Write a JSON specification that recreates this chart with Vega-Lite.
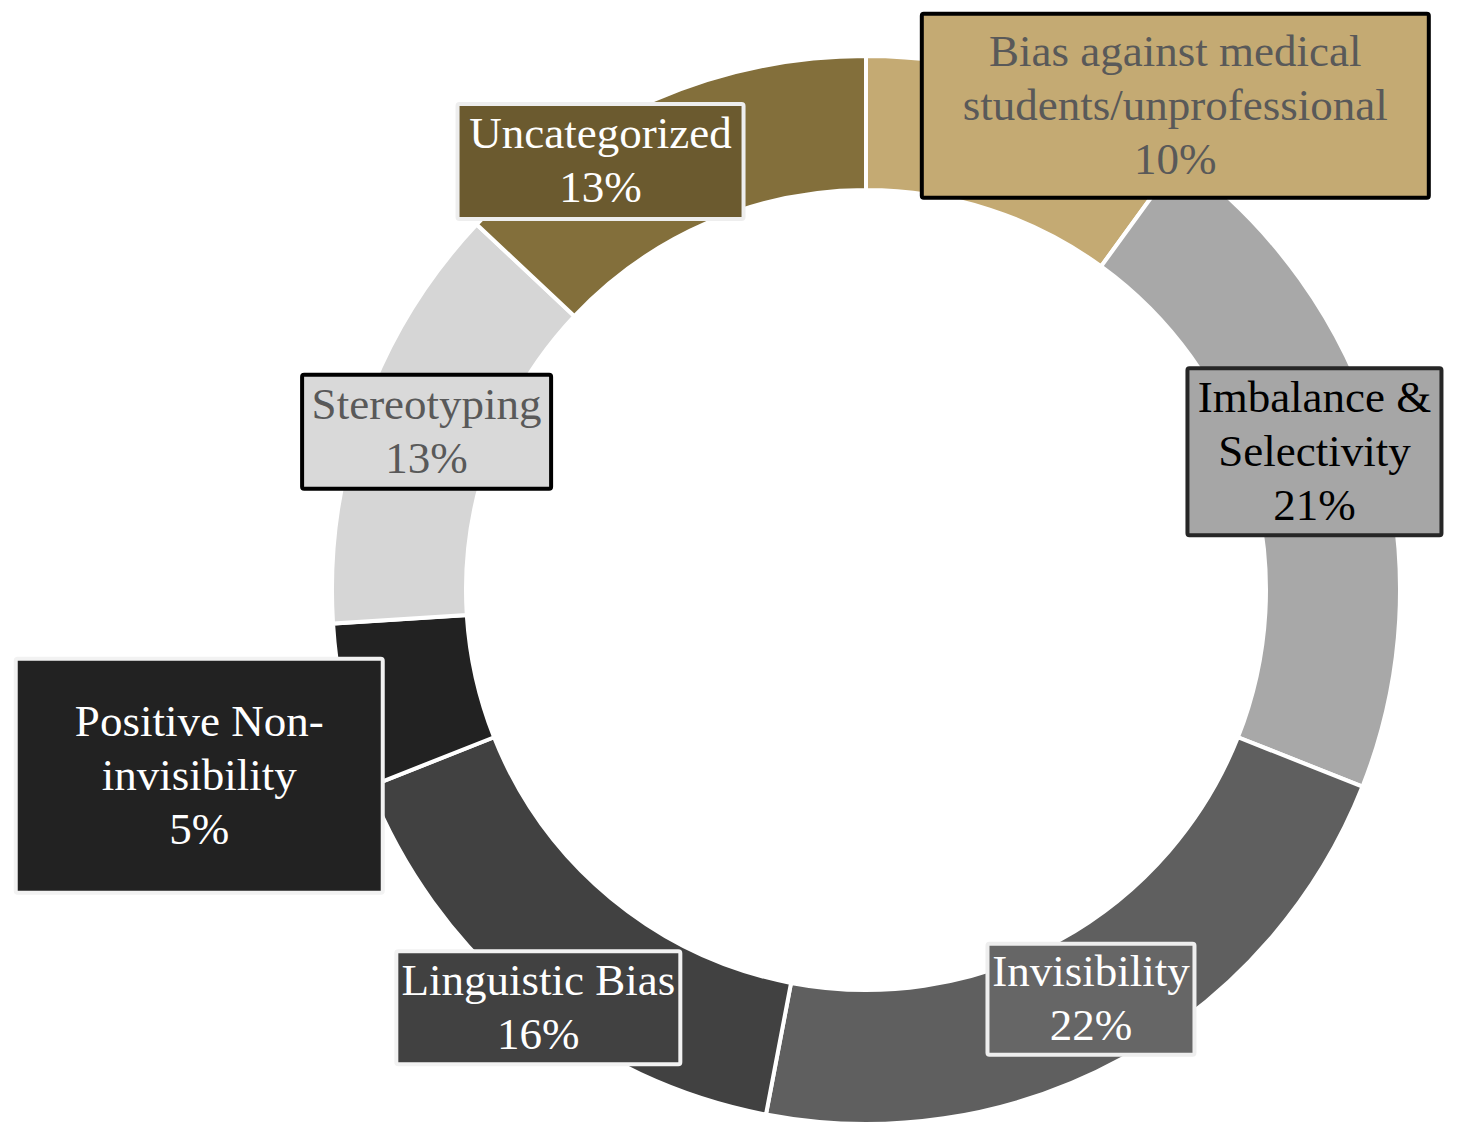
{
  "$schema": "https://vega.github.io/schema/vega-lite/v6.json",
  "autosize": {"type": "none"},
  "padding": {"left": 333, "top": 58, "right": 61, "bottom": 3},
  "width": 1066,
  "height": 1064,
  "background": "white",
  "config": {"view": {"stroke": null}},
  "data": {
    "values": [
      {"category": "Bias against medical students/unprofessional", "label": "Bias against medical\nstudents/unprofessional", "share": 10},
      {"category": "Imbalance & Selectivity", "label": "Imbalance &\nSelectivity", "share": 21},
      {"category": "Invisibility", "label": "Invisibility", "share": 22},
      {"category": "Linguistic Bias", "label": "Linguistic Bias", "share": 16},
      {"category": "Positive Non-invisibility", "label": "Positive Non-\ninvisibility", "share": 5},
      {"category": "Stereotyping", "label": "Stereotyping", "share": 13},
      {"category": "Uncategorized", "label": "Uncategorized", "share": 13}
    ]
  },
  "resolve": {"scale": {"color": "independent"}},
  "layer": [
    {
      "mark": {"type": "arc", "radius": 534, "radius2": 400, "stroke": "white", "strokeWidth": 4},
      "encoding": {
        "theta": {"field": "share", "type": "quantitative", "stack": true},
        "order": {"field": "category", "sort": "ascending"},
        "color": {
          "field": "category",
          "type": "nominal",
          "legend": null,
          "scale": {
            "domain": ["Bias against medical students/unprofessional", "Imbalance & Selectivity", "Invisibility", "Linguistic Bias", "Positive Non-invisibility", "Stereotyping", "Uncategorized"],
            "range": ["#C4AA73", "#A8A8A8", "#5F5F5F", "#414141", "#222222", "#D6D6D6", "#836F3B"]
          }
        }
      }
    },
    {
      "transform": [
        {"window": [{"op": "sum", "field": "share", "as": "cum"}], "sort": [{"field": "category", "order": "ascending"}], "frame": [null, 0]},
        {"joinaggregate": [{"op": "sum", "field": "share", "as": "total"}]},
        {"calculate": "2 * PI * (datum.cum - datum.share / 2) / datum.total", "as": "mid"},
        {"calculate": "datum.category === 'Bias against medical students/unprofessional' ? 165 : datum.category === 'Linguistic Bias' ? -30 : datum.category === 'Positive Non-invisibility' ? -211 : datum.category === 'Uncategorized' ? -80 : 0", "as": "nudgeX"},
        {"calculate": "datum.category === 'Bias against medical students/unprofessional' ? 40 : datum.category === 'Imbalance & Selectivity' ? 8 : datum.category === 'Linguistic Bias' ? -58 : datum.category === 'Positive Non-invisibility' ? -84 : 0", "as": "nudgeY"},
        {"calculate": "467 * sin(datum.mid) + datum.nudgeX", "as": "cx"},
        {"calculate": "467 * cos(datum.mid) + datum.nudgeY", "as": "cy"},
        {"calculate": "datum.category === 'Bias against medical students/unprofessional' ? 253.5 : datum.category === 'Imbalance & Selectivity' ? 127 : datum.category === 'Invisibility' ? 103.5 : datum.category === 'Linguistic Bias' ? 142 : datum.category === 'Positive Non-invisibility' ? 183.5 : datum.category === 'Stereotyping' ? 124.5 : 143", "as": "hw"},
        {"calculate": "datum.category === 'Bias against medical students/unprofessional' ? 92 : datum.category === 'Imbalance & Selectivity' ? 83.5 : datum.category === 'Invisibility' ? 55.5 : datum.category === 'Linguistic Bias' ? 56.5 : datum.category === 'Positive Non-invisibility' ? 117 : datum.category === 'Stereotyping' ? 57 : 57.5", "as": "hh"},
        {"calculate": "datum.cx - datum.hw", "as": "bx1"},
        {"calculate": "datum.cx + datum.hw", "as": "bx2"},
        {"calculate": "datum.cy - datum.hh", "as": "by1"},
        {"calculate": "datum.cy + datum.hh", "as": "by2"},
        {"calculate": "datum.label + '\\n' + datum.share + '%'", "as": "text"},
        {"calculate": "datum.cy + (length(split(datum.text, '\\n')) - 1) * 27", "as": "ty"}
      ],
      "layer": [
        {
          "mark": {"type": "rect", "strokeWidth": 4, "cornerRadius": 2},
          "encoding": {
            "x": {"field": "bx1", "type": "quantitative", "axis": null, "scale": {"domain": [-533, 533], "nice": false, "zero": false}},
            "x2": {"field": "bx2"},
            "y": {"field": "by1", "type": "quantitative", "axis": null, "scale": {"domain": [-532, 532], "nice": false, "zero": false}},
            "y2": {"field": "by2"},
            "fill": {
              "field": "category",
              "type": "nominal",
              "legend": null,
              "scale": {
                "domain": ["Bias against medical students/unprofessional", "Imbalance & Selectivity", "Invisibility", "Linguistic Bias", "Positive Non-invisibility", "Stereotyping", "Uncategorized"],
                "range": ["#C4AA73", "#A6A6A6", "#666666", "#414141", "#222222", "#D9D9D9", "#6B5A2F"]
              }
            },
            "stroke": {
              "field": "category",
              "type": "nominal",
              "legend": null,
              "scale": {
                "domain": ["Bias against medical students/unprofessional", "Imbalance & Selectivity", "Invisibility", "Linguistic Bias", "Positive Non-invisibility", "Stereotyping", "Uncategorized"],
                "range": ["#000000", "#262626", "#EEEEEE", "#F2F2F2", "#F2F2F2", "#000000", "#EEEEEE"]
              }
            }
          }
        },
        {
          "mark": {"type": "text", "font": "Liberation Serif", "fontSize": 45, "lineHeight": 54, "lineBreak": "\n", "align": "center", "baseline": "middle"},
          "encoding": {
            "x": {"field": "cx", "type": "quantitative", "axis": null, "scale": {"domain": [-533, 533], "nice": false, "zero": false}},
            "y": {"field": "ty", "type": "quantitative", "axis": null, "scale": {"domain": [-532, 532], "nice": false, "zero": false}},
            "text": {"field": "text", "type": "nominal"},
            "color": {
              "field": "category",
              "type": "nominal",
              "legend": null,
              "scale": {
                "domain": ["Bias against medical students/unprofessional", "Imbalance & Selectivity", "Invisibility", "Linguistic Bias", "Positive Non-invisibility", "Stereotyping", "Uncategorized"],
                "range": ["#595959", "#000000", "#FFFFFF", "#FFFFFF", "#FFFFFF", "#595959", "#FFFFFF"]
              }
            }
          }
        }
      ]
    }
  ]
}
